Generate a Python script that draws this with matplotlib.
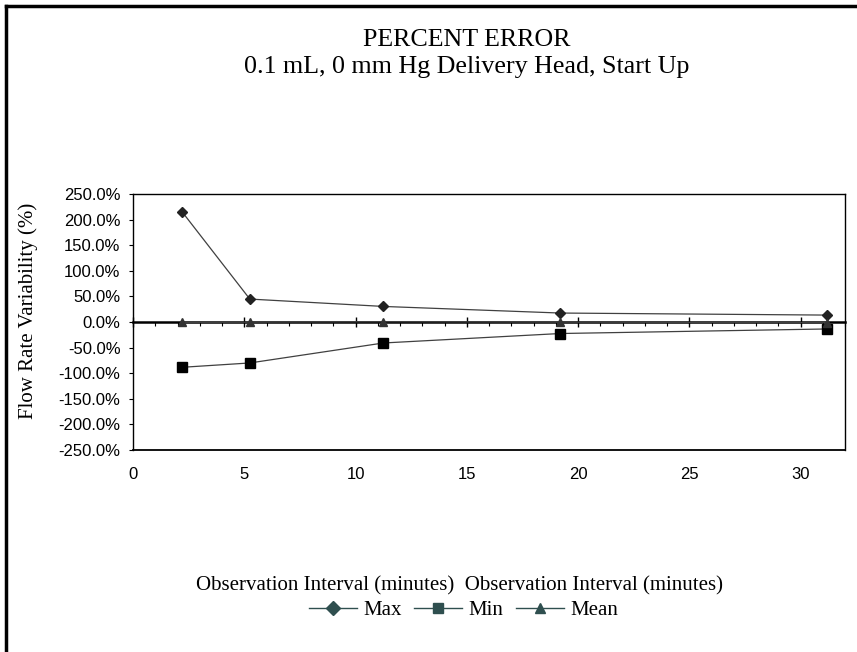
import matplotlib
matplotlib.use("Agg")
import matplotlib.pyplot as plt
from matplotlib.lines import Line2D
from matplotlib.ticker import MultipleLocator, PercentFormatter

# observation interval (minutes) and percent error values
interval = [2.2, 5.25, 11.25, 19.2, 31.2]
err_max = [215.6, 44.8, 30.4, 17.5, 13.5]
err_min = [-88.5, -80.0, -41.0, -22.5, -13.6]
err_mean = [-0.8, -0.5, 0.5, -0.4, -1.2]
series_names = ["Max", "Min", "Mean"]

plt.rcParams['axes.unicode_minus'] = False
serif = ['Liberation Serif', 'DejaVu Serif']
sans = ['Liberation Sans', 'DejaVu Sans']

W, H = 857, 652
fig = plt.figure(figsize=(W / 100, H / 100), dpi=100)
fig.patch.set_facecolor('white')

# plot area box (pixel positions of the reference)
ax = fig.add_axes([133 / W, 1 - 450 / H, (845 - 133) / W, (450 - 194) / H])

line_col = '#404040'
ax.plot(interval, err_max, color=line_col, lw=0.9, marker='D', ms=5.5,
        mfc='#222222', mec='#222222', zorder=3)
ax.plot(interval, err_min, color=line_col, lw=0.9, marker='s', ms=6.5,
        mfc='black', mec='black', zorder=3)
ax.plot(interval, err_mean, color=line_col, lw=0.9, marker='^', ms=6,
        mfc='#333333', mec='#333333', zorder=3)

ax.set_xlim(0, 32)
ax.set_ylim(-250, 250)
ax.yaxis.set_major_locator(MultipleLocator(50))
ax.yaxis.set_major_formatter(PercentFormatter(xmax=100, decimals=1))
ax.xaxis.set_major_locator(MultipleLocator(5))

for s in ax.spines.values():
    s.set_color('black')
    s.set_linewidth(1.0)
ax.spines['bottom'].set_linewidth(1.3)

ax.tick_params(axis='y', direction='out', length=3, width=0.8, pad=6,
               labelsize=12)
ax.tick_params(axis='x', length=0, pad=12, labelsize=12)
for lab in ax.get_xticklabels() + ax.get_yticklabels():
    lab.set_fontfamily(sans)

# horizontal axis line through zero with its ticks
zero_axis = ax.secondary_xaxis(0, transform=ax.transData)
zero_axis.spines['bottom'].set_linewidth(1.8)
zero_axis.xaxis.set_major_locator(MultipleLocator(5))
zero_axis.xaxis.set_minor_locator(MultipleLocator(1))
zero_axis.tick_params(which='major', direction='inout', length=7, width=1.0,
                      labelbottom=False, labeltop=False)
zero_axis.tick_params(which='minor', direction='out', length=3, width=0.8)

# titles and labels
fig.text(0.545, 1 - 40 / H, "PERCENT ERROR", ha='center', va='center',
         fontsize=18.7, family=serif)
fig.text(0.545, 1 - 67 / H, "0.1 mL, 0 mm Hg Delivery Head, Start Up",
         ha='center', va='center', fontsize=18.7, family=serif)
fig.text(28 / W, 1 - 311 / H, "Flow Rate Variability (%)", rotation=90,
         ha='center', va='center', fontsize=15, family=serif)
fig.text(0.536, 1 - 586 / H,
         "Observation Interval (minutes)  Observation Interval (minutes)",
         ha='center', va='center', fontsize=15, family=serif)

leg_col = '#2f4f4f'
handles = [
    Line2D([], [], color=leg_col, lw=1, marker='D', ms=7, mfc=leg_col, mec=leg_col),
    Line2D([], [], color=leg_col, lw=1, marker='s', ms=7, mfc=leg_col, mec=leg_col),
    Line2D([], [], color=leg_col, lw=1, marker='^', ms=7, mfc=leg_col, mec=leg_col),
]
fig.legend(handles, series_names, loc='center', bbox_to_anchor=(0.541, 1 - 610 / H),
           ncol=3, frameon=False, prop={'family': serif, 'size': 15},
           handlelength=2.3, handletextpad=0.3, columnspacing=0.6,
           borderpad=0, borderaxespad=0)

# thick chart border on top and left
fig.add_artist(Line2D([6 / W, 1], [1 - 5.7 / H, 1 - 5.7 / H], color='black',
                      lw=2.5, transform=fig.transFigure))
fig.add_artist(Line2D([6 / W, 6 / W], [0, 1 - 5.7 / H], color='black',
                      lw=2.5, transform=fig.transFigure))

fig.savefig("out.png", dpi=100, facecolor='white')
